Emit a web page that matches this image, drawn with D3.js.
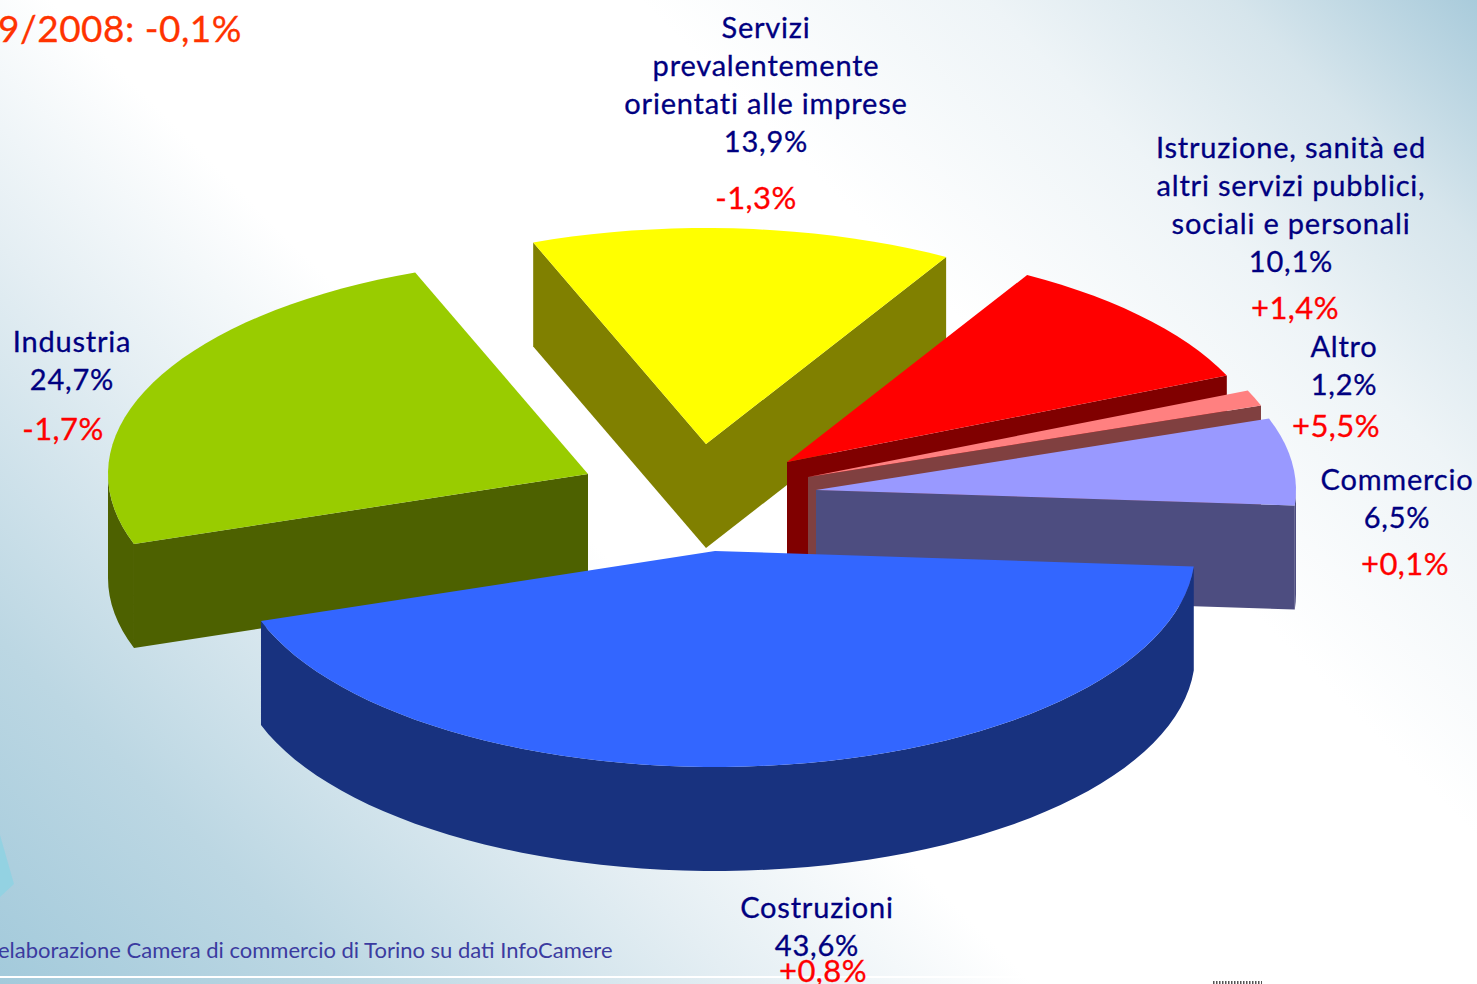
<!DOCTYPE html>
<html><head><meta charset="utf-8">
<script src="https://cdnjs.cloudflare.com/ajax/libs/d3/7.8.5/d3.min.js"></script>
<style>html,body{margin:0;padding:0;background:#fff;overflow:hidden}svg{display:block}text{font-family:Lato,"Noto Sans",sans-serif}</style>
</head><body><svg id="c" width="1477" height="984"></svg>
<script>
// data
const categories=["Costruzioni","Industria","Servizi prevalentemente orientati alle imprese","Istruzione, sanità ed altri servizi pubblici, sociali e personali","Altro","Commercio"];
const labelLines=[["Costruzioni"],["Industria"],["Servizi","prevalentemente","orientati alle imprese"],["Istruzione, sanità ed","altri servizi pubblici,","sociali e personali"],["Altro"],["Commercio"]];
const shareLabels=["43,6%","24,7%","13,9%","10,1%","1,2%","6,5%"];
const shares=[43.6,24.4,14.2,10.1,1.2,6.5];
const changes=["+0,8%","-1,7%","-1,3%","+1,4%","+5,5%","+0,1%"];
const titleText="9/2008: -0,1%";
const sourceText="elaborazione Camera di commercio di Torino su dati InfoCamere";
// style and layout
const topColors=["#3366ff","#99cc00","#ffff00","#ff0000","#ff8080","#9999ff"];
const sideColors=["#18327f","#4d6100","#808000","#800000","#804040","#4d4d80"];
const apexX=[715,588,706,787,808,816], apexY=[551,474,444,462,477,490];
const nameX=[817,72,766,1291,1344,1397], nameY=[918,352,38,158,357,490];
const changeX=[823,63,756,1295,1336,1405], changeY=[982,440,209,319,437,575];
const rx=480, ry=216, depth=104, startDeg=94.1;

const svg=d3.select("#c");
const defs=svg.append("defs");
const g=defs.append("linearGradient").attr("id","bg").attr("gradientUnits","userSpaceOnUse")
 .attr("x1",0).attr("y1",984).attr("x2",1230.5).attr("y2",-246.5);
[[0,"#a3cadb"],[.14,"#bcd7e3"],[.3,"#e4eef3"],[.42,"#ffffff"],[.66,"#ffffff"],[.8,"#eef4f7"],[.9,"#d6e5ec"],[1,"#a9cbdb"]]
 .forEach(s=>g.append("stop").attr("offset",s[0]).attr("stop-color",s[1]));
svg.append("rect").attr("width",1477).attr("height",984).attr("fill","url(#bg)");
svg.append("path").attr("d","M0,835L14,884L0,897Z").attr("fill","#93d2e2");
svg.append("rect").attr("x",0).attr("y",976).attr("width",1477).attr("height",2).attr("fill","#fff");
svg.append("line").attr("x1",1213).attr("x2",1262).attr("y1",982.5).attr("y2",982.5)
 .attr("stroke","#555").attr("stroke-width",3).attr("stroke-dasharray","1.5 1.5");

const sx=d3.scaleLinear().domain([-1,1]).range([-rx,rx]);
const sy=d3.scaleLinear().domain([-1,1]).range([-ry,ry]);
const pie=d3.pie().sort(null).startAngle(startDeg*Math.PI/180).endAngle((startDeg+360)*Math.PI/180);
const arcs=pie(shares);
const line=d3.line();
// d3.pie angles start at 12 o'clock; project them on the tilted ellipse
const pt=(i,a,dz=0)=>[apexX[i]+sx(Math.sin(a)),apexY[i]+sy(-Math.cos(a))+dz];
const samples=(a0,a1)=>{const n=Math.max(2,Math.ceil((a1-a0)/(2.5*Math.PI/180)));return d3.range(n+1).map(k=>a0+(a1-a0)*k/n);};
const order=[2,1,3,4,5,0];
const pieG=svg.append("g");
order.forEach(i=>{
 const d=arcs[i], a0=d.startAngle, a1=d.endAngle, A=[apexX[i],apexY[i]], B=[A[0],A[1]+depth];
 const side=sideColors[i];
 // cut faces, drawn when they turn towards the viewer
 const faces=[];
 if(Math.sin(a0)<0) faces.push(a0);
 if(Math.sin(a1)>0) faces.push(a1);
 faces.forEach(a=>{
   pieG.append("path").attr("d",line([A,pt(i,a),pt(i,a,depth),B])+"Z").attr("fill",side);
 });
 // outer wall: front half of the ellipse (d3 angle between 90° and 270°, mod 360)
 [[Math.PI/2,3*Math.PI/2],[Math.PI/2+2*Math.PI,3*Math.PI/2+2*Math.PI]].forEach(([l,h])=>{
   const lo=Math.max(a0,l), hi=Math.min(a1,h);
   if(hi>lo){
     const s=samples(lo,hi);
     pieG.append("path").attr("d",line(s.map(a=>pt(i,a)).concat(s.slice().reverse().map(a=>pt(i,a,depth))))+"Z").attr("fill",side);
   }
 });
 pieG.append("path").attr("d",line([A].concat(samples(a0,a1).map(a=>pt(i,a))))+"Z").attr("fill",topColors[i]);
});

const NAVY="#000080", RED="#ff0000", lh=38;
labelLines.forEach((ls,i)=>{
 ls.concat([shareLabels[i]]).forEach((t,k)=>svg.append("text").attr("x",nameX[i]).attr("y",nameY[i]+k*lh).attr("text-anchor","middle")
   .attr("font-size",29).attr("letter-spacing",.8).attr("fill",NAVY).attr("stroke",NAVY).attr("stroke-width",.3).text(t));
 svg.append("text").attr("x",changeX[i]).attr("y",changeY[i]).attr("text-anchor","middle")
   .attr("font-size",31).attr("letter-spacing",.4).attr("fill",RED).attr("stroke",RED).attr("stroke-width",.3).text(changes[i]);
});
svg.append("text").attr("x",-2).attr("y",42).attr("font-size",37).attr("letter-spacing",.5).attr("fill","#ff3300").attr("stroke","#ff3300").attr("stroke-width",.3).text(titleText);
svg.append("text").attr("x",-2).attr("y",958).attr("font-size",22).attr("fill","#3b3ba0").text(sourceText);
</script></body></html>
